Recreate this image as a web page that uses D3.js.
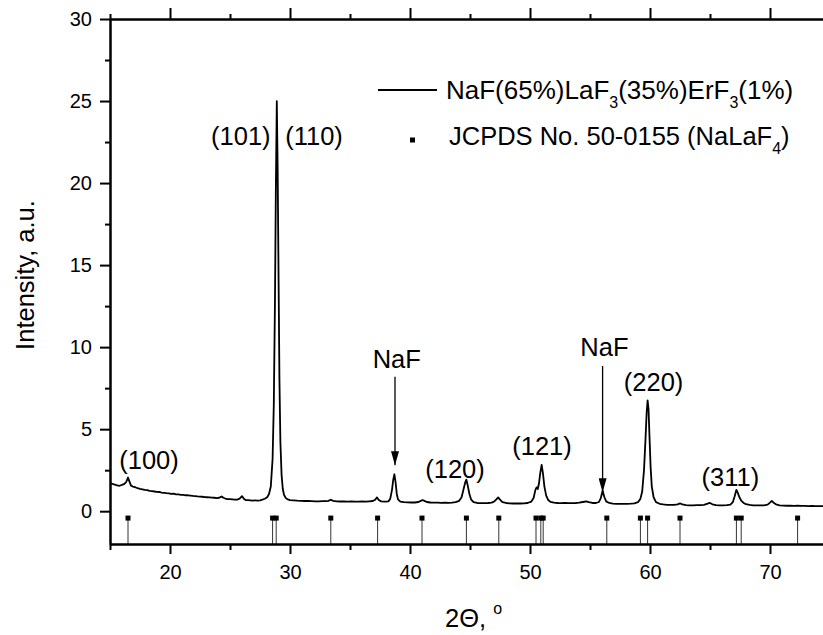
<!DOCTYPE html>
<html>
<head>
<meta charset="utf-8">
<script src="https://cdn.jsdelivr.net/npm/d3@7"></script>
<style>
  body { margin: 0; background: #fff; }
  svg { font-family: "Liberation Sans", Arial, sans-serif; }
</style>
</head>
<body>
<div id="chart"></div>
<script>

// measured XRD scan: [2theta, intensity]
var xrdScan = [
 [15.0,1.72],[15.2,1.66],[15.4,1.62],[15.6,1.58],[15.8,1.55],[16.0,1.60],[16.2,1.66],[16.35,1.78],
 [16.5,2.05],[16.6,1.85],[16.75,1.56],[16.9,1.50],[17.1,1.46],[17.3,1.40],[17.5,1.36],[17.7,1.33],
 [17.9,1.30],[18.1,1.28],[18.3,1.24],[18.5,1.22],[18.7,1.20],[18.9,1.18],[19.1,1.17],[19.3,1.13],
 [19.5,1.12],[19.7,1.10],[19.9,1.09],[20.1,1.06],[20.3,1.07],[20.5,1.03],[20.7,1.02],[20.9,1.00],
 [21.1,0.99],[21.3,0.97],[21.5,0.97],[21.7,0.95],[21.9,0.93],[22.1,0.92],[22.3,0.90],[22.5,0.89],
 [22.7,0.88],[22.9,0.86],[23.1,0.85],[23.3,0.84],[23.5,0.83],[23.7,0.82],[23.9,0.80],[24.1,0.82],
 [24.3,0.90],[24.45,0.82],[24.6,0.77],[24.8,0.74],[25.0,0.73],[25.2,0.72],[25.4,0.70],[25.6,0.71],
 [25.8,0.76],[26.0,0.92],[26.15,0.76],[26.3,0.68],[26.5,0.67],[26.7,0.66],[26.9,0.65],[27.1,0.66],
 [27.3,0.65],[27.5,0.66],[27.7,0.70],[27.9,0.76],[28.1,0.85],[28.25,1.05],[28.4,1.50],[28.55,3.2],
 [28.65,6.5],[28.75,13.0],[28.82,19.5],[28.9,25.0],[28.97,21.0],[29.05,14.0],[29.12,8.0],[29.2,4.2],
 [29.3,2.2],[29.4,1.35],[29.5,1.00],[29.65,0.80],[29.8,0.72],[30.0,0.68],[30.3,0.66],[30.6,0.64],
 [30.9,0.63],[31.2,0.62],[31.5,0.62],[31.8,0.61],[32.1,0.60],[32.4,0.60],[32.7,0.61],[33.0,0.61],
 [33.2,0.63],[33.4,0.70],[33.6,0.63],[33.9,0.60],[34.2,0.59],[34.5,0.60],[34.8,0.58],[35.1,0.59],
 [35.4,0.58],[35.7,0.58],[36.0,0.59],[36.3,0.58],[36.6,0.60],[36.9,0.62],[37.1,0.70],[37.25,0.84],
 [37.4,0.68],[37.6,0.60],[37.9,0.58],[38.2,0.60],[38.35,0.75],[38.5,1.30],[38.6,1.90],[38.7,2.25],
 [38.8,1.75],[38.9,1.05],[39.0,0.72],[39.2,0.58],[39.5,0.55],[39.8,0.54],[40.1,0.53],[40.4,0.53],
 [40.7,0.56],[40.9,0.63],[41.05,0.68],[41.2,0.63],[41.4,0.56],[41.7,0.53],[42.0,0.52],[42.3,0.52],
 [42.6,0.51],[42.9,0.52],[43.2,0.51],[43.5,0.52],[43.8,0.55],[44.1,0.63],[44.3,0.85],[44.45,1.30],
 [44.6,1.75],[44.7,1.92],[44.8,1.60],[44.95,1.05],[45.1,0.70],[45.3,0.55],[45.6,0.50],[45.9,0.49],
 [46.2,0.49],[46.5,0.50],[46.8,0.52],[47.0,0.58],[47.2,0.72],[47.35,0.84],[47.5,0.70],[47.7,0.55],
 [48.0,0.50],[48.3,0.48],[48.6,0.47],[48.9,0.47],[49.2,0.47],[49.5,0.48],[49.8,0.50],[50.1,0.58],
 [50.3,0.80],[50.45,1.30],[50.55,1.45],[50.65,1.35],[50.75,1.70],[50.85,2.30],[50.97,2.82],[51.08,2.30],
 [51.2,1.50],[51.35,0.95],[51.5,0.70],[51.7,0.57],[52.0,0.52],[52.3,0.50],[52.6,0.49],[52.9,0.50],
 [53.2,0.49],[53.5,0.49],[53.8,0.50],[54.1,0.52],[54.4,0.56],[54.7,0.60],[54.9,0.55],[55.2,0.50],
 [55.5,0.50],[55.75,0.56],[55.9,0.80],[56.05,1.25],[56.2,0.85],[56.35,0.60],[56.6,0.50],[56.9,0.46],
 [57.2,0.45],[57.5,0.44],[57.8,0.44],[58.1,0.45],[58.4,0.46],[58.7,0.48],[59.0,0.55],[59.2,0.75],
 [59.35,1.20],[59.5,2.50],[59.62,4.30],[59.72,6.00],[59.8,6.75],[59.88,6.20],[59.96,4.50],[60.05,2.70],
 [60.15,1.50],[60.3,0.85],[60.5,0.55],[60.8,0.45],[61.1,0.41],[61.4,0.39],[61.7,0.38],[62.0,0.38],
 [62.3,0.42],[62.5,0.48],[62.7,0.41],[63.0,0.37],[63.3,0.36],[63.6,0.36],[63.9,0.37],[64.2,0.37],
 [64.5,0.39],[64.8,0.46],[65.0,0.50],[65.2,0.42],[65.5,0.37],[65.8,0.36],[66.1,0.36],[66.4,0.37],
 [66.7,0.40],[66.9,0.55],[67.05,0.90],[67.2,1.30],[67.3,1.15],[67.45,0.85],[67.6,0.65],[67.8,0.50],
 [68.0,0.43],[68.3,0.38],[68.6,0.36],[68.9,0.35],[69.2,0.35],[69.5,0.36],[69.8,0.40],[70.0,0.52],
 [70.15,0.63],[70.3,0.52],[70.5,0.42],[70.8,0.36],[71.1,0.34],[71.4,0.33],[71.7,0.33],[72.0,0.32],
 [72.3,0.33],[72.6,0.32],[72.9,0.32],[73.2,0.31],[73.5,0.32],[73.8,0.31],[74.1,0.31],[74.4,0.31],
 [74.7,0.30],[75.0,0.30]
];

// JCPDS 50-0155 reference lines (2theta)
var jcpdsPeaks = [16.5, 28.55, 28.85, 33.4, 37.3, 41.0, 44.7, 47.4, 50.5, 50.9, 51.1,
                  56.4, 59.2, 59.8, 62.5, 67.2, 67.6, 72.3];
var jcpdsLevel = -0.42;

var xMajor = [20, 30, 40, 50, 60, 70];
var xMinor = [15, 25, 35, 45, 55, 65, 75];
var yMajor = [0, 5, 10, 15, 20, 25, 30];
var yMinor = [2.5, 7.5, 12.5, 17.5, 22.5, 27.5];

// peak labels: text, 2theta, intensity
var peakLabels = [
  ["(100)", 18.25, 2.6],
  ["(101)", 25.9, 22.3],
  ["(110)", 32.0, 22.3],
  ["NaF", 38.9, 8.75],
  ["(120)", 43.75, 2.0],
  ["(121)", 51.0, 3.45],
  ["NaF", 56.2, 9.45],
  ["(220)", 60.3, 7.35],
  ["(311)", 66.7, 1.55]
];
// arrows: 2theta, from, to
var naFArrows = [[38.75, 8.2, 2.8], [56.05, 8.85, 1.15]];

var W = 823, H = 635;
var svg = d3.select("#chart").append("svg").attr("width", W).attr("height", H);

var x = d3.scaleLinear().domain([15, 75]).range([110, 830]);
var y = d3.scaleLinear().domain([-2, 30]).range([544, 19]);

svg.append("defs").append("marker")
  .attr("id", "ah").attr("viewBox", "0 0 14 8").attr("refX", 14).attr("refY", 4)
  .attr("markerWidth", 14).attr("markerHeight", 8).attr("markerUnits", "userSpaceOnUse")
  .attr("orient", "auto")
  .append("path").attr("d", "M0,0 L14,4 L0,8 Z").attr("fill", "#000");

// stick pattern
var sticks = svg.append("g");
sticks.selectAll("line").data(jcpdsPeaks).enter().append("line")
  .attr("x1", d => x(d)).attr("x2", d => x(d))
  .attr("y1", y(jcpdsLevel)).attr("y2", y(-2))
  .attr("stroke", "#333").attr("stroke-width", 1);
sticks.selectAll("rect").data(jcpdsPeaks).enter().append("rect")
  .attr("x", d => x(d) - 2.5).attr("y", y(jcpdsLevel) - 2.5)
  .attr("width", 5).attr("height", 5).attr("fill", "#000");

// scan
var line = d3.line().x(d => x(d[0])).y(d => y(d[1]));
svg.append("path").datum(xrdScan)
  .attr("d", line).attr("fill", "none")
  .attr("stroke", "#000").attr("stroke-width", 1.8).attr("stroke-linejoin", "round");

// axes
function styleAxis(g) {
  g.selectAll("path,line").attr("stroke", "#000").attr("stroke-width", 2);
  g.selectAll("text").attr("font-size", "20px").attr("fill", "#000")
    .attr("font-family", "'Liberation Sans', Arial, sans-serif");
}
var fmt = d3.format("d");
svg.append("g").attr("transform", "translate(0,544)")
  .call(d3.axisBottom(x).tickValues(xMajor).tickFormat(fmt).tickSize(10).tickSizeOuter(0).tickPadding(11))
  .call(styleAxis);
svg.append("g").attr("transform", "translate(0,544)")
  .call(d3.axisBottom(x).tickValues(xMinor).tickFormat("").tickSize(6).tickSizeOuter(0))
  .call(styleAxis);
svg.append("g").attr("transform", "translate(0,19)")
  .call(d3.axisTop(x).tickValues(xMajor).tickFormat("").tickSize(11).tickSizeOuter(0))
  .call(styleAxis);
svg.append("g").attr("transform", "translate(0,19)")
  .call(d3.axisTop(x).tickValues(xMinor).tickFormat("").tickSize(5).tickSizeOuter(0))
  .call(styleAxis);
svg.append("g").attr("transform", "translate(110,0)")
  .call(d3.axisLeft(y).tickValues(yMajor).tickFormat(fmt).tickSize(10).tickSizeOuter(0).tickPadding(8))
  .call(styleAxis);
svg.append("g").attr("transform", "translate(110,0)")
  .call(d3.axisLeft(y).tickValues(yMinor).tickFormat("").tickSize(5).tickSizeOuter(0))
  .call(styleAxis);

// peak labels + arrows
svg.append("g").selectAll("text").data(peakLabels).enter().append("text")
  .attr("x", d => x(d[1])).attr("y", d => y(d[2]))
  .attr("text-anchor", "middle").attr("font-size", "25.5px").text(d => d[0]);
svg.append("g").selectAll("line").data(naFArrows).enter().append("line")
  .attr("x1", d => x(d[0])).attr("x2", d => x(d[0]))
  .attr("y1", d => y(d[1])).attr("y2", d => y(d[2]))
  .attr("stroke", "#000").attr("stroke-width", 1.3).attr("marker-end", "url(#ah)");

// axis titles
svg.append("text").attr("transform", "translate(34,275) rotate(-90)")
  .attr("text-anchor", "middle").attr("font-size", "25.5px").text("Intensity, a.u.");
var xt = svg.append("text").attr("x", 445).attr("y", 627).attr("font-size", "25.5px");
xt.append("tspan").text("2\u0398, ");
xt.append("tspan").attr("font-size", "16px").attr("dy", -13).text("o");

// legend
var lg = svg.append("g");
lg.append("line").attr("x1", 378).attr("x2", 437).attr("y1", 90).attr("y2", 90)
  .attr("stroke", "#000").attr("stroke-width", 1.8);
var t1 = lg.append("text").attr("x", 446).attr("y", 99).attr("font-size", "26px");
t1.append("tspan").text("NaF(65%)LaF");
t1.append("tspan").attr("font-size", "16px").attr("dy", 9).text("3");
t1.append("tspan").attr("dy", -9).text("(35%)ErF");
t1.append("tspan").attr("font-size", "16px").attr("dy", 9).text("3");
t1.append("tspan").attr("dy", -9).text("(1%)");
lg.append("rect").attr("x", 410).attr("y", 137.5).attr("width", 5).attr("height", 5).attr("fill", "#000");
var t2 = lg.append("text").attr("x", 449).attr("y", 145).attr("font-size", "25.5px");
t2.append("tspan").text("JCPDS No. 50-0155 (NaLaF");
t2.append("tspan").attr("font-size", "16px").attr("dy", 9).text("4");
t2.append("tspan").attr("dy", -9).text(")");

</script>
</body>
</html>
